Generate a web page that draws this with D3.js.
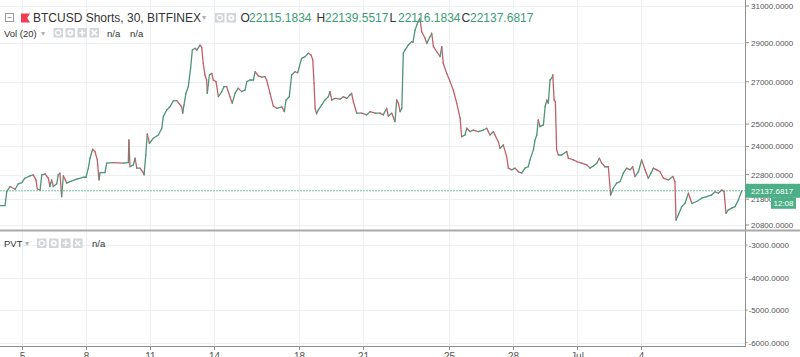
<!DOCTYPE html>
<html>
<head>
<meta charset="utf-8">
<script src="https://cdn.jsdelivr.net/npm/d3@7"></script>
<style>
  body { margin: 0; background: #fff; }
  svg { display: block; font-family: "Liberation Sans", Arial, sans-serif; }
</style>
</head>
<body>
<div id="chart"></div>
<script>
// 30 min closes; day offsets counted from 4 Jun 00:00 UTC
var days = [
  0, 0.22, 0.30, 0.45, 0.69, 0.84, 1.00, 1.15, 1.39, 1.54, 1.67, 1.73, 1.86, 1.94, 2.09, 2.25, 2.32, 2.40, 2.48, 2.64,
  2.71, 2.79, 2.87, 2.95, 3.11, 3.26, 3.58, 3.88, 4.01, 4.12, 4.20, 4.32, 4.43, 4.54, 4.62, 4.67, 4.90, 4.98, 5.29, 5.76,
  5.99, 6.02, 6.07, 6.23, 6.31, 6.39, 6.54, 6.69, 6.73, 6.81, 6.88, 6.98, 7.16, 7.40, 7.56, 7.63, 7.79, 7.94, 8.10, 8.26,
  8.49, 8.54, 8.60, 8.69, 8.80, 8.91, 8.99, 9.12, 9.20, 9.35, 9.43, 9.50, 9.58, 9.66, 9.69, 9.79, 9.90, 9.97, 10.10, 10.21,
  10.37, 10.47, 10.60, 10.75, 10.86, 10.99, 11.14, 11.30, 11.46, 11.54, 11.69, 11.85, 11.93, 12.08, 12.24, 12.39, 12.47, 12.63, 12.78, 12.94,
  13.18, 13.30, 13.38, 13.53, 13.64, 13.80, 13.92, 14.00, 14.11, 14.27, 14.42, 14.55, 14.63, 14.69, 14.74, 14.81, 14.89, 15.05, 15.20, 15.36,
  15.44, 15.52, 15.67, 15.91, 16.06, 16.22, 16.37, 16.45, 16.53, 16.69, 16.92, 17.16, 17.31, 17.55, 17.78, 17.93, 18.09, 18.17, 18.33, 18.48,
  18.56, 18.64, 18.72, 18.80, 18.87, 18.95, 19.10, 19.26, 19.32, 19.42, 19.50, 19.57, 19.65, 19.73, 19.89, 19.97, 20.12, 20.20, 20.28, 20.44,
  20.59, 20.67, 20.74, 20.90, 21.06, 21.21, 21.37, 21.53, 21.60, 21.76, 21.84, 21.99, 22.15, 22.38, 22.62, 22.78, 22.85, 22.93, 23.09, 23.16,
  23.32, 23.40, 23.55, 23.71, 23.79, 23.95, 24.10, 24.26, 24.41, 24.57, 24.72, 24.80, 24.96, 25.04, 25.12, 25.19, 25.27, 25.43, 25.51, 25.59,
  25.66, 25.74, 25.82, 25.87, 25.93, 25.99, 26.05, 26.13, 26.29, 26.52, 26.60, 26.83, 26.99, 27.22, 27.46, 27.61, 27.77, 27.93, 28.05, 28.16,
  28.31, 28.47, 28.58, 28.70, 28.86, 29.02, 29.17, 29.33, 29.49, 29.61, 29.72, 29.88, 30.03, 30.19, 30.34, 30.46, 30.58, 30.74, 30.89, 31.05,
  31.28, 31.49, 31.59, 31.64, 31.75, 31.91, 32.06, 32.22, 32.38, 32.61, 32.84, 33.08, 33.31, 33.47, 33.62, 33.78, 33.89, 33.98, 34.09, 34.25,
  34.40, 34.56, 34.72
];
var closes = [
  21550, 21550, 22100, 22310, 22200, 22420, 22470, 22650, 22750, 22790, 22580, 22210, 22170, 22790, 22830, 22650, 22310, 22580, 22310, 22420,
  22790, 22860, 21900, 22750, 22450, 22510, 22610, 22690, 22690, 23070, 23490, 23880, 23780, 23420, 22580, 22880, 22880, 23280, 23300, 23280,
  23300, 24290, 23130, 23210, 23490, 23070, 23070, 22880, 22790, 23630, 24550, 24140, 24360, 24510, 24810, 25340, 25650, 25800, 26080, 26090,
  25800, 25500, 25890, 26440, 26760, 27680, 28610, 28700, 28610, 28870, 28750, 27930, 27340, 27090, 26440, 27340, 27420, 27090, 27010, 26280,
  26520, 26760, 26760, 26280, 25970, 26440, 26690, 26520, 26600, 27010, 27090, 27090, 27500, 27290, 27230, 27260, 27090, 26440, 25840, 25730,
  25800, 25570, 26120, 26280, 27340, 27500, 27450, 27760, 28180, 28270, 28440, 28350, 28100, 26930, 25730, 25470, 25650, 25890, 26120, 26280,
  26520, 26120, 26200, 26160, 26280, 26200, 26360, 26440, 26040, 25500, 25500, 25420, 25570, 25500, 25500, 25420, 25730, 25370, 25500, 25110,
  26120, 25970, 25570, 25730, 28440, 28610, 28870, 29050, 29010, 29670, 29940, 30130, 30310, 29580, 29230, 28960, 29310, 29500, 28790, 28520,
  28270, 28790, 27930, 27420, 27010, 26600, 25970, 25270, 24430, 24510, 24810, 24660, 24730, 24660, 24730, 24810, 24660, 24510, 24660, 24510,
  24210, 23920, 24070, 23560, 23070, 23000, 23070, 22920, 22860, 23070, 23130, 23420, 23850, 24290, 24510, 25190, 24880, 24960, 25800, 26120,
  25970, 27090, 27180, 27340, 26120, 26040, 23850, 23630, 23630, 23780, 23490, 23420, 23350, 23280, 23210, 23070, 23160, 23280, 23490, 23280,
  23130, 23130, 21970, 22240, 22450, 22510, 22860, 23070, 23000, 23130, 22720, 22920, 23420, 23000, 22650, 22860, 23070, 23000, 22920, 22650,
  22580, 22720, 22510, 20990, 21190, 21510, 21640, 22040, 21640, 21710, 21840, 21900, 21970, 22100, 22040, 22170, 22100, 21250, 21380, 21450,
  21510, 21770, 22137.6817
];

var priceTicks = [31000, 29000, 27000, 25000, 24000, 22800, 21800, 20800];
var pvtTicks = [-3000, -4000, -5000, -6000];
var dateTicks = ["2018-06-05", "2018-06-08", "2018-06-11", "2018-06-14", "2018-06-18",
                 "2018-06-21", "2018-06-25", "2018-06-28", "2018-07-01", "2018-07-04"];
var dateLabels = ["5", "8", "11", "14", "18", "21", "25", "28", "Jul", "4"];

var title = "BTCUSD Shorts, 30, BITFINEX";
var ohlcKeys = ["O", "H", "L", "C"];
var ohlcValues = ["22115.1834", "22139.5517", "22116.1834", "22137.6817"];
var lastTime = "12:08";

var width = 800, height = 357;
var axisX = 745.5;         // right price axis line
var paneSplit = 231;       // separator between price and PVT panes
var bottomY = 346.5;       // time axis line

var svg = d3.select("#chart")
  .append("svg")
  .attr("width", width)
  .attr("height", height);

var parseDay = d3.utcParse("%Y-%m-%d");
var start = Date.UTC(2018, 5, 4);
// plain hyphen for negatives, like the reference
var fmt = function(v) { return d3.format(".4f")(v).replace("\u2212", "-"); };

var x = d3.scaleUtc()
  .domain([parseDay("2018-06-05"), parseDay("2018-07-04")])
  .range([21.7, 641]);

var y = d3.scaleLog()
  .domain([20800, 31000])
  .range([225, 6]);

var yPvt = d3.scaleLinear()
  .domain([-3000, -6000])
  .range([245, 342.7]);

var points = days.map(function(d, i) {
  return { t: new Date(start + d * 864e5), v: closes[i] };
});

// grid
var grid = svg.append("g").attr("stroke", "#edf0f2").attr("stroke-width", 1);
dateTicks.forEach(function(d) {
  var gx = Math.round(x(parseDay(d))) + 0.5;
  grid.append("line").attr("x1", gx).attr("x2", gx).attr("y1", 0).attr("y2", bottomY);
});
priceTicks.forEach(function(v) {
  var gy = Math.round(y(v)) + 0.5;
  grid.append("line").attr("x1", 0).attr("x2", axisX).attr("y1", gy).attr("y2", gy);
});
pvtTicks.forEach(function(v) {
  var gy = Math.round(yPvt(v)) + 0.5;
  grid.append("line").attr("x1", 0).attr("x2", axisX).attr("y1", gy).attr("y2", gy);
});

// last price dotted line
var lastY = y(closes[closes.length - 1]);
svg.append("line")
  .attr("x1", 0).attr("x2", axisX)
  .attr("y1", lastY).attr("y2", lastY)
  .attr("stroke", "#6cc3a0")
  .attr("stroke-width", 1)
  .attr("stroke-dasharray", "2,1");

// price series, coloured by direction like the candles
var series = svg.append("g")
  .attr("fill", "none")
  .attr("stroke-width", 1.3)
  .attr("stroke-linecap", "round");
for (var i = 1; i < points.length; i++) {
  var a = points[i - 1], b = points[i];
  series.append("line")
    .attr("x1", x(a.t)).attr("y1", y(a.v))
    .attr("x2", x(b.t)).attr("y2", y(b.v))
    .attr("stroke", b.v >= a.v ? "#4e9478" : "#c0606b");
}

// axes frame
svg.append("line")
  .attr("x1", axisX).attr("x2", axisX).attr("y1", 0).attr("y2", bottomY)
  .attr("stroke", "#8f8f8f");
svg.append("line")
  .attr("x1", 0).attr("x2", axisX).attr("y1", bottomY).attr("y2", bottomY)
  .attr("stroke", "#8f8f8f");
svg.append("rect")
  .attr("x", 0).attr("y", paneSplit - 1.5).attr("width", width).attr("height", 2)
  .attr("fill", "#a9a9a9");

// right price axis
var yAxis = svg.append("g").attr("font-size", 8).attr("fill", "#555");
priceTicks.forEach(function(v) {
  var ty = y(v);
  yAxis.append("line").attr("x1", axisX).attr("x2", axisX + 3.5).attr("y1", ty).attr("y2", ty).attr("stroke", "#8f8f8f");
  yAxis.append("text").attr("x", 751).attr("y", ty + 3).text(fmt(v));
});
pvtTicks.forEach(function(v) {
  var ty = yPvt(v);
  yAxis.append("line").attr("x1", axisX).attr("x2", axisX + 2).attr("y1", ty).attr("y2", ty).attr("stroke", "#8f8f8f");
  yAxis.append("text").attr("x", 748.5).attr("y", ty + 3).text(fmt(v));
});

// last price and countdown tags
svg.append("rect").attr("x", axisX).attr("y", lastY - 7).attr("width", width - axisX).attr("height", 14).attr("fill", "#4caf87");
svg.append("text").attr("x", 751).attr("y", lastY + 3).attr("font-size", 8).attr("fill", "#fff")
  .text(fmt(closes[closes.length - 1]));
svg.append("rect").attr("x", 771).attr("y", lastY + 7).attr("width", 25).attr("height", 11).attr("fill", "#4caf87");
svg.append("text").attr("x", 783.5).attr("y", lastY + 15.5).attr("font-size", 8).attr("fill", "#fff")
  .attr("text-anchor", "middle").text(lastTime);

// time axis
var xAxis = svg.append("g").attr("font-size", 10).attr("fill", "#555").attr("text-anchor", "middle");
dateTicks.forEach(function(d, i) {
  var tx = Math.round(x(parseDay(d))) + 0.5;
  xAxis.append("line").attr("x1", tx).attr("x2", tx).attr("y1", bottomY).attr("y2", bottomY + 3.5).attr("stroke", "#8f8f8f");
  xAxis.append("text").attr("x", tx).attr("y", 360).text(dateLabels[i]);
});

// small grey legend buttons
function iconButton(g, bx, by, kind) {
  g.append("rect").attr("x", bx).attr("y", by).attr("width", 9.5).attr("height", 9.5).attr("fill", "#d3d6d9");
  var cx = bx + 4.75, cy = by + 4.75;
  if (kind == "eye") {
    g.append("circle").attr("cx", cx).attr("cy", cy).attr("r", 2.6).attr("fill", "none").attr("stroke", "#fff").attr("stroke-width", 1.1);
  } else if (kind == "gear") {
    g.append("circle").attr("cx", cx).attr("cy", cy).attr("r", 3).attr("fill", "#fff");
    g.append("circle").attr("cx", cx).attr("cy", cy).attr("r", 1.2).attr("fill", "#d3d6d9");
  } else if (kind == "plus") {
    g.append("path").attr("d", "M" + (cx - 3) + "," + cy + "H" + (cx + 3) + "M" + cx + "," + (cy - 3) + "V" + (cy + 3))
      .attr("stroke", "#fff").attr("stroke-width", 1.6);
  } else {
    g.append("path").attr("d", "M" + (cx - 2.6) + "," + (cy - 2.6) + "L" + (cx + 2.6) + "," + (cy + 2.6) + "M" + (cx + 2.6) + "," + (cy - 2.6) + "L" + (cx - 2.6) + "," + (cy + 2.6))
      .attr("stroke", "#fff").attr("stroke-width", 1.5);
  }
}

var legend = svg.append("g");

// header row
legend.append("rect").attr("x", 5.5).attr("y", 13.5).attr("width", 8).attr("height", 8)
  .attr("fill", "#fff").attr("stroke", "#9a9a9a");
legend.append("line").attr("x1", 7.5).attr("x2", 11.5).attr("y1", 17.5).attr("y2", 17.5).attr("stroke", "#9a9a9a");
legend.append("path").attr("d", "M21,13.5H30L27.2,18L30,22.5H21Z").attr("fill", "#f23a55");
legend.append("text").attr("x", 33).attr("y", 21.7).attr("font-size", 12).attr("fill", "#333").text(title);
legend.append("text").attr("x", 202).attr("y", 20).attr("font-size", 8).attr("fill", "#b0b0b0").text("\u25BE");
iconButton(legend, 215, 13, "eye");
iconButton(legend, 226.5, 13, "gear");

var keyX = [240.5, 316.5, 389.5, 461.5];
ohlcKeys.forEach(function(k, i) {
  legend.append("text").attr("x", keyX[i]).attr("y", 21.7).attr("font-size", 12).attr("fill", "#333").text(k);
  legend.append("text").attr("x", keyX[i] + 8.5).attr("y", 21.7).attr("font-size", 12).attr("fill", "#3c9c77").text(ohlcValues[i]);
});

// volume row
legend.append("text").attr("x", 4).attr("y", 37).attr("font-size", 9.5).attr("fill", "#333").text("Vol (20)");
legend.append("text").attr("x", 40.5).attr("y", 36).attr("font-size", 7.5).attr("fill", "#b0b0b0").text("\u25BE");
["eye", "gear", "plus", "x"].forEach(function(k, i) { iconButton(legend, 53.5 + i * 12, 28, k); });
legend.append("text").attr("x", 107).attr("y", 37).attr("font-size", 9.5).attr("fill", "#333").text("n/a");
legend.append("text").attr("x", 130).attr("y", 37).attr("font-size", 9.5).attr("fill", "#333").text("n/a");

// PVT row
legend.append("text").attr("x", 4).attr("y", 247).attr("font-size", 9.5).attr("fill", "#333").text("PVT");
legend.append("text").attr("x", 25).attr("y", 246).attr("font-size", 7.5).attr("fill", "#b0b0b0").text("\u25BE");
["eye", "gear", "plus", "x"].forEach(function(k, i) { iconButton(legend, 37 + i * 12, 238.5, k); });
legend.append("text").attr("x", 92).attr("y", 247).attr("font-size", 9.5).attr("fill", "#333").text("n/a");
</script>
</body>
</html>
